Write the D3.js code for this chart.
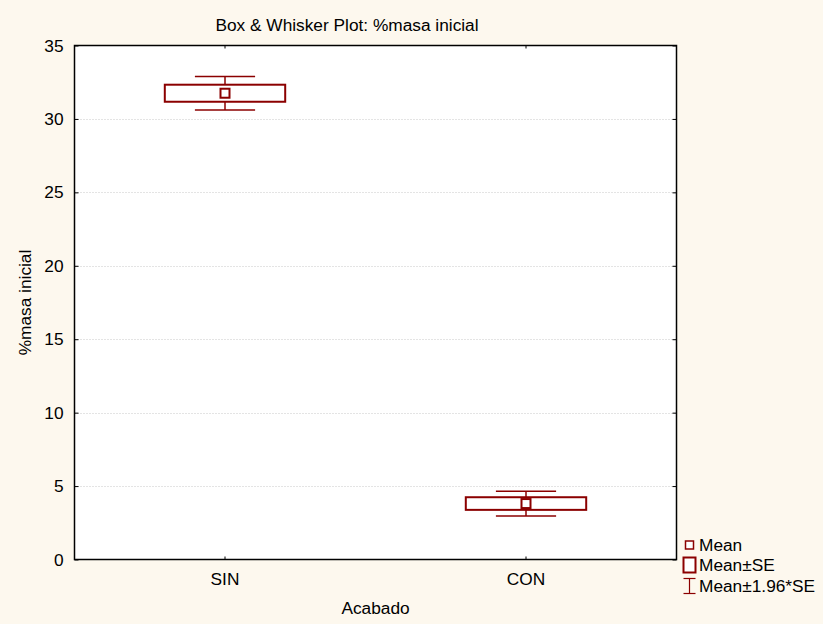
<!DOCTYPE html>
<html>
<head>
<meta charset="utf-8">
<script src="https://cdn.jsdelivr.net/npm/d3@7"></script>
<style>
html,body{margin:0;padding:0;background:#FDF8EE;}
svg{display:block;}
text{font-family:"Liberation Sans",Arial,sans-serif;fill:#000;}
</style>
</head>
<body>
<svg id="chart" width="823" height="624"></svg>
<script>
const categories = ["SIN", "CON"];
const means = [31.75, 3.81];
const stdErrors = [0.58, 0.43];
const yTicks = [0, 5, 10, 15, 20, 25, 30, 35];
const titleText = "Box & Whisker Plot: %masa inicial";
const xLabel = "Acabado";
const yLabel = "%masa inicial";
const legendLabels = ["Mean", "Mean±SE", "Mean±1.96*SE"];

const W = 823, H = 624;
const plot = {left: 74.5, right: 676.5, top: 45.5, bottom: 559.5};
const color = "#8B0000";
const fs = 17.3;

const svg = d3.select("#chart");
svg.append("rect").attr("width", W).attr("height", H).attr("fill", "#FDF8EE");

const x = d3.scaleBand().domain(categories).range([plot.left, plot.right]).paddingInner(0).paddingOuter(0);
const y = d3.scaleLinear().domain([0, 35]).range([plot.bottom, plot.top]);

svg.append("rect").attr("x", plot.left).attr("y", plot.top)
  .attr("width", plot.right - plot.left).attr("height", plot.bottom - plot.top)
  .attr("fill", "#fff");

// grid
svg.append("g").selectAll("line").data(yTicks.filter(t => t > 0 && t < 35)).join("line")
  .attr("x1", plot.left).attr("x2", plot.right)
  .attr("y1", d => Math.round(y(d)) + 0.5).attr("y2", d => Math.round(y(d)) + 0.5)
  .attr("stroke", "#c8c8c8").attr("stroke-width", 1).attr("stroke-dasharray", "1,2");

// axes
const yAxisL = d3.axisLeft(y).tickValues(yTicks).tickSize(-4).tickPadding(11);
const gL = svg.append("g").attr("transform", `translate(${plot.left},0)`).call(yAxisL);
const yAxisR = d3.axisRight(y).tickValues(yTicks).tickSize(-4).tickFormat("");
const gR = svg.append("g").attr("transform", `translate(${plot.right},0)`).call(yAxisR);
const xAxisB = d3.axisBottom(x).tickSize(-3).tickPadding(13);
const gB = svg.append("g").attr("transform", `translate(0,${plot.bottom})`).call(xAxisB);
const xAxisT = d3.axisTop(x).tickSize(-3).tickFormat("");
const gT = svg.append("g").attr("transform", `translate(0,${plot.top})`).call(xAxisT);
[gL, gR, gB, gT].forEach(g => {
  g.select(".domain").remove();
  g.selectAll(".tick line").attr("stroke", "#000");
  g.selectAll("text").attr("font-size", fs).attr("font-family", "Liberation Sans, Arial, sans-serif").attr("fill", "#000");
});

svg.append("rect").attr("x", plot.left).attr("y", plot.top)
  .attr("width", plot.right - plot.left).attr("height", plot.bottom - plot.top)
  .attr("fill", "none").attr("stroke", "#000").attr("stroke-width", 1.5);

// boxes
const bw = x.bandwidth();
const boxW = bw * 0.4, capW = bw * 0.2, meanS = 9;
const data = categories.map((c, i) => ({c, m: means[i], se: stdErrors[i]}));
const g = svg.append("g");
data.forEach(d => {
  const cx = x(d.c) + bw / 2;
  const lo = d.m - 1.96 * d.se, hi = d.m + 1.96 * d.se;
  g.append("line").attr("x1", cx).attr("x2", cx).attr("y1", y(hi)).attr("y2", y(lo))
    .attr("stroke", color).attr("stroke-width", 1.5);
  [hi, lo].forEach(v => g.append("line").attr("x1", cx - capW / 2).attr("x2", cx + capW / 2)
    .attr("y1", y(v)).attr("y2", y(v)).attr("stroke", color).attr("stroke-width", 1.5));
  g.append("rect").attr("x", cx - boxW / 2).attr("y", y(d.m + d.se))
    .attr("width", boxW).attr("height", y(d.m - d.se) - y(d.m + d.se))
    .attr("fill", "#fff").attr("stroke", color).attr("stroke-width", 2);
  g.append("rect").attr("x", cx - meanS / 2).attr("y", y(d.m) - meanS / 2)
    .attr("width", meanS).attr("height", meanS)
    .attr("fill", "#fff").attr("stroke", color).attr("stroke-width", 2);
});

// titles
svg.append("text").attr("x", 347).attr("y", 31).attr("text-anchor", "middle")
  .attr("font-size", fs).text(titleText);
svg.append("text").attr("x", (plot.left + plot.right) / 2).attr("y", 614).attr("text-anchor", "middle")
  .attr("font-size", fs).text(xLabel);
svg.append("text").attr("transform", `translate(31,${(plot.top + plot.bottom) / 2}) rotate(-90)`)
  .attr("text-anchor", "middle").attr("font-size", fs).text(yLabel);

// legend
const lg = svg.append("g");
const lx = 689.5;
const ly = [545, 565, 586];
lg.append("rect").attr("x", lx - 4).attr("y", ly[0] - 4).attr("width", 8).attr("height", 8)
  .attr("fill", "#fff").attr("stroke", color).attr("stroke-width", 1.5);
lg.append("rect").attr("x", lx - 6).attr("y", ly[1] - 7.5).attr("width", 12).attr("height", 15)
  .attr("fill", "#fff").attr("stroke", color).attr("stroke-width", 2);
lg.append("line").attr("x1", lx).attr("x2", lx).attr("y1", ly[2] - 7.5).attr("y2", ly[2] + 7.5)
  .attr("stroke", color).attr("stroke-width", 1.2);
[ly[2] - 7.5, ly[2] + 7.5].forEach(v => lg.append("line").attr("x1", lx - 6).attr("x2", lx + 6)
  .attr("y1", v).attr("y2", v).attr("stroke", color).attr("stroke-width", 1.2));
legendLabels.forEach((t, i) => lg.append("text").attr("x", 699).attr("y", ly[i]).attr("dy", "0.35em")
  .attr("font-size", fs).text(t));
</script>
</body>
</html>
